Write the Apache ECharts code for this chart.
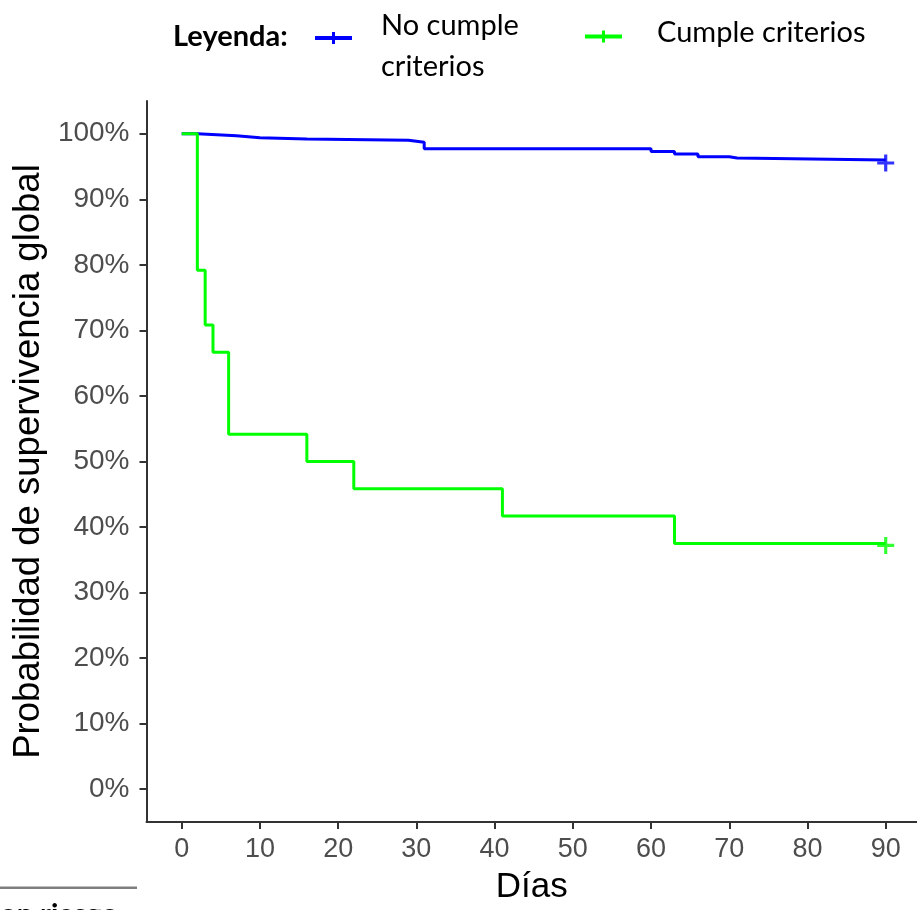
<!DOCTYPE html>
<html>
<head>
<meta charset="utf-8">
<script src="https://cdn.jsdelivr.net/npm/echarts@6/dist/echarts.min.js"></script>
<style>html,body{margin:0;padding:0;background:#fff}#c{width:917px;height:910px}</style>
</head>
<body>
<div id="c"></div>
<script>
// Kaplan-Meier steps: [day, survival %]
const noCumpleDays = [0, 2, 7, 10, 16, 29, 31, 60, 63, 66, 70, 71, 90];
const noCumpleSurv = [100, 99.7, 99.4, 99.2, 99.0, 98.7, 97.7, 97.3, 96.9, 96.5, 96.3, 96.0, 96.0];
const cumpleDays = [0, 2, 3, 4, 6, 16, 22, 41, 63, 90];
const cumpleSurv = [100, 79.17, 70.83, 66.67, 54.17, 50.0, 45.83, 41.67, 37.5, 37.5];
const censorNoCumple = [[90, 96.0]];
const censorCumple = [[90, 37.5]];
const xTicks = [0, 10, 20, 30, 40, 50, 60, 70, 80, 90];
const yTicks = [0, 10, 20, 30, 40, 50, 60, 70, 80, 90, 100];
const seriesNames = ['No cumple criterios', 'Cumple criterios'];
const colors = ['#0000FF', '#00FF00'];

const plusPath = 'path://M6.5,0 H9.5 V6.5 H16 V9.5 H9.5 V16 H6.5 V9.5 H0 V6.5 H6.5 Z';
const legendIcon = 'path://M0,4 H17 V0 H20 V4 H37 V8 H20 V12 H17 V8 H0 Z';

const zip = (a, b) => a.map((v, i) => [v, b[i]]);
const chart = echarts.init(document.getElementById('c'), null, {renderer: 'canvas'});

const axisFont = 'Liberation Sans, Arial, sans-serif';
const legFont = 'Lato, sans-serif';

chart.setOption({
  animation: false,
  backgroundColor: '#ffffff',
  grid: {left: 146.5, right: 0, top: 101, bottom: 87, containLabel: false},
  xAxis: {
    type: 'value', min: -4.5, max: 94,
    name: 'Días', nameLocation: 'middle', nameGap: 48,
    nameTextStyle: {fontFamily: axisFont, fontSize: 35, color: '#000'},
    axisLine: {onZero: false, lineStyle: {color: '#333', width: 2}},
    axisTick: {show: true, length: 7, customValues: xTicks, lineStyle: {color: '#333', width: 2}},
    axisLabel: {customValues: xTicks, margin: 14, fontFamily: axisFont, fontSize: 27, color: '#4D4D4D'},
    splitLine: {show: false}
  },
  yAxis: {
    type: 'value', min: -5, max: 105,
    name: 'Probabilidad de supervivencia global', nameLocation: 'middle', nameRotate: 90, nameGap: 89,
    nameTextStyle: {fontFamily: axisFont, fontSize: 36.5, color: '#000'},
    axisLine: {show: true, onZero: false, lineStyle: {color: '#333', width: 2}},
    axisTick: {show: true, length: 7, customValues: yTicks, lineStyle: {color: '#333', width: 2}},
    axisLabel: {customValues: yTicks, margin: 17, fontFamily: axisFont, fontSize: 28, color: '#4D4D4D',
      formatter: v => v + '%'},
    splitLine: {show: false}
  },
  legend: [
    {
      left: 315, top: -8, padding: 0, orient: 'horizontal',
      itemWidth: 37, itemHeight: 12,
      data: [{name: seriesNames[0], icon: legendIcon}],
      formatter: () => '{gap| }\n{t|No cumple}\n{t|criterios}',
      textStyle: {padding: [0, 0, 0, 24],
        rich: {
          gap: {fontSize: 10, lineHeight: 16},
          t: {fontFamily: legFont, fontSize: 29, color: '#000', lineHeight: 41}
        }}
    },
    {
      left: 585, top: 18, padding: 0, orient: 'horizontal',
      itemWidth: 37, itemHeight: 12,
      data: [{name: seriesNames[1], icon: legendIcon}],
      formatter: () => '{t|Cumple criterios}\n{gap| }',
      textStyle: {padding: [0, 0, 0, 30],
        rich: {
          gap: {fontSize: 6, lineHeight: 8},
          t: {fontFamily: legFont, fontSize: 29, color: '#000', lineHeight: 35}
        }}
    }
  ],
  graphic: [
    {type: 'text', left: 173, top: 22, style: {text: 'Leyenda:', fontFamily: legFont, fontWeight: 'bold', fontSize: 29, fill: '#000'}},
    {type: 'rect', shape: {x: 0, y: 886.5, width: 137, height: 2.5}, style: {fill: '#7F7F7F'}},
    {type: 'text', left: 0, top: 900, style: {text: 'on riesgo', fontFamily: legFont, fontWeight: 'bold', fontSize: 29, fill: '#000'}}
  ],
  series: [
    {
      name: seriesNames[0], type: 'line', step: 'end', symbol: 'none',
      data: zip(noCumpleDays, noCumpleSurv), color: colors[0],
      lineStyle: {color: colors[0], width: 3}, z: 2
    },
    {
      name: seriesNames[1], type: 'line', step: 'end', symbol: 'none',
      data: zip(cumpleDays, cumpleSurv), color: colors[1],
      lineStyle: {color: colors[1], width: 3}, z: 3
    },
    {
      name: seriesNames[0], type: 'scatter', symbol: plusPath, symbolSize: 17, symbolOffset: [0, 3],
      data: censorNoCumple, itemStyle: {color: colors[0]}, z: 4
    },
    {
      name: seriesNames[1], type: 'scatter', symbol: plusPath, symbolSize: 17, symbolOffset: [0, 2],
      data: censorCumple, itemStyle: {color: colors[1]}, z: 4
    }
  ]
});
</script>
</body>
</html>
